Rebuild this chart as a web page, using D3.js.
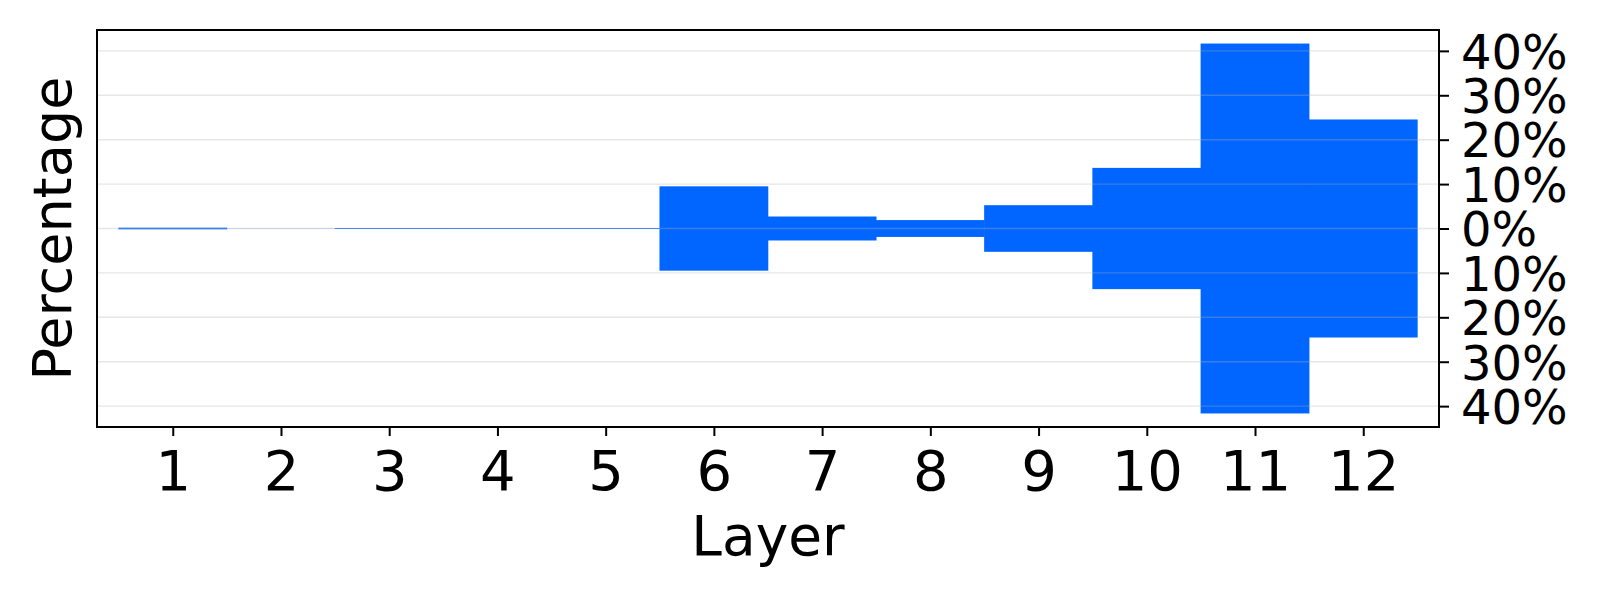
<!DOCTYPE html>
<html>
<head>
<meta charset="utf-8">
<script src="https://cdn.jsdelivr.net/npm/d3@7"></script>
<style>
  body { margin: 0; background: white; }
  text { font-family: "DejaVu Sans", sans-serif; fill: black; }
</style>
</head>
<body>
<div id="chart"></div>
<script>
// data: bars are symmetric around 0
let layers = [1, 2, 3, 4, 5, 6, 7, 8, 9, 10, 11, 12]
let percentages = [0.0018, 0.0002, 0.001, 0.001, 0.001, 0.095, 0.027, 0.019, 0.0525, 0.1365, 0.4165, 0.2455]
let yTicks = [-0.4, -0.3, -0.2, -0.1, 0, 0.1, 0.2, 0.3, 0.4]

let width = 1600, height = 600
let margin = {top: 30, right: 161, bottom: 173, left: 97}
let plotWidth = width - margin.left - margin.right
let plotHeight = height - margin.top - margin.bottom

let svg = d3.select("#chart").append("svg")
    .attr("width", width)
    .attr("height", height)

let g = svg.append("g")
    .attr("transform", "translate(" + margin.left + "," + margin.top + ")")

let xScale = d3.scaleLinear().domain([0.3, 12.7]).range([0, plotWidth])
let yScale = d3.scaleLinear().domain([-0.447, 0.447]).range([plotHeight, 0])

let data = layers.map((l, i) => [l, percentages[i]])

// bars (a little extra width so neighbours don't show a seam)
g.append("g")
    .selectAll("rect")
    .data(data)
    .enter()
    .append("rect")
      .attr("x", d => xScale(d[0] - 0.5) - 0.3)
      .attr("width", d => xScale(d[0] + 0.5) - xScale(d[0] - 0.5) + 0.6)
      .attr("y", d => yScale(d[1]))
      .attr("height", d => yScale(-d[1]) - yScale(d[1]))
      .style("fill", "#0066ff")

// grid lines on top of bars
g.append("g")
    .selectAll("line")
    .data(yTicks)
    .enter()
    .append("line")
      .attr("x1", 0)
      .attr("x2", plotWidth)
      .attr("y1", d => yScale(d))
      .attr("y2", d => yScale(d))
      .style("stroke", "#b0b0b0")
      .style("stroke-opacity", 0.32)
      .style("stroke-width", 1.4)

// right axis
let yAxis = g.append("g")
    .attr("transform", "translate(" + plotWidth + ",0)")
    .call(d3.axisRight(yScale)
        .tickValues(yTicks)
        .tickSize(10)
        .tickPadding(12)
        .tickFormat(d => Math.round(Math.abs(d) * 100) + "%"))
yAxis.select(".domain").remove()
yAxis.selectAll(".tick line").style("stroke", "black").style("stroke-width", 2)
yAxis.selectAll(".tick text")
    .attr("dy", "0.36em")
    .style("font-size", "48px")
    .style("font-family", "DejaVu Sans")

// bottom axis
let xAxis = g.append("g")
    .attr("transform", "translate(0," + plotHeight + ")")
    .call(d3.axisBottom(xScale).tickValues(layers).tickSize(9).tickFormat(d3.format("d")))
xAxis.select(".domain").remove()
xAxis.selectAll(".tick line").style("stroke", "black").style("stroke-width", 2)
xAxis.selectAll(".tick text")
    .attr("y", 63)
    .attr("dy", 0)
    .style("font-size", "56px")
    .style("font-family", "DejaVu Sans")

// frame
g.append("rect")
    .attr("x", 0)
    .attr("y", 0)
    .attr("width", plotWidth)
    .attr("height", plotHeight)
    .style("fill", "none")
    .style("stroke", "black")
    .style("stroke-width", 2)

// axis labels
g.append("text")
    .attr("text-anchor", "middle")
    .attr("x", plotWidth / 2)
    .attr("y", 555 - margin.top)
    .style("font-size", "55px")
    .text("Layer")

g.append("text")
    .attr("text-anchor", "middle")
    .attr("transform", "rotate(-90)")
    .attr("x", -plotHeight / 2)
    .attr("y", 71 - margin.left)
    .style("font-size", "54px")
    .text("Percentage")
</script>
</body>
</html>
